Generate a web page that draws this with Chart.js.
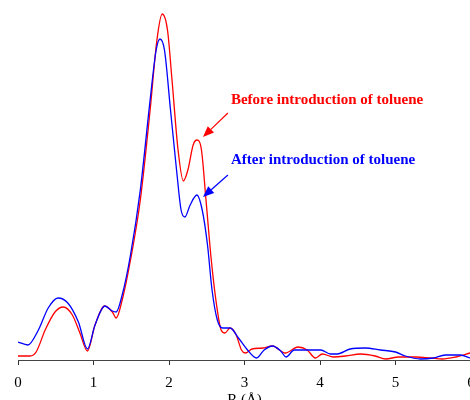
<!DOCTYPE html>
<html>
<head>
<meta charset="utf-8">
<script src="https://cdn.jsdelivr.net/npm/chart.js@4"></script>
<style>
  html, body { margin: 0; padding: 0; background: #fff; overflow: hidden; }
  #wrap { position: relative; width: 490px; height: 409px; }
</style>
</head>
<body>
<div id="wrap"><canvas id="ft-chart"></canvas></div>
<script>
// R values (Angstrom) and FT magnitudes
const rBefore = [0.00, 0.16, 0.24, 0.36, 0.49, 0.60, 0.72, 0.82, 0.92, 1.02, 1.15, 1.25, 1.30, 1.38, 1.49, 1.62, 1.75, 1.84, 1.91, 1.98, 2.04, 2.12, 2.19, 2.25, 2.32, 2.37, 2.43, 2.49, 2.56, 2.63, 2.69, 2.74, 2.81, 2.89, 2.96, 3.01, 3.10, 3.24, 3.37, 3.54, 3.71, 3.83, 3.94, 4.03, 4.18, 4.34, 4.54, 4.73, 4.87, 5.04, 5.27, 5.46, 5.62, 5.80, 5.99];
const magBefore = [0.04, 0.04, 0.08, 0.30, 0.48, 0.53, 0.45, 0.27, 0.09, 0.35, 0.54, 0.48, 0.42, 0.60, 1.00, 1.60, 2.50, 3.20, 3.46, 3.30, 2.80, 2.10, 1.79, 1.90, 2.15, 2.20, 2.10, 1.60, 1.00, 0.55, 0.30, 0.27, 0.32, 0.25, 0.10, 0.07, 0.11, 0.12, 0.14, 0.07, 0.13, 0.10, 0.02, 0.06, 0.03, 0.04, 0.06, 0.04, 0.01, 0.03, 0.03, 0.02, 0.01, 0.03, 0.07];

const rAfter = [0.00, 0.13, 0.27, 0.40, 0.53, 0.66, 0.80, 0.92, 1.02, 1.15, 1.25, 1.30, 1.38, 1.49, 1.62, 1.75, 1.83, 1.88, 1.94, 2.02, 2.10, 2.16, 2.21, 2.28, 2.37, 2.44, 2.51, 2.57, 2.64, 2.71, 2.81, 2.92, 3.04, 3.16, 3.26, 3.37, 3.48, 3.55, 3.66, 3.87, 4.01, 4.14, 4.23, 4.40, 4.60, 4.80, 5.00, 5.13, 5.33, 5.50, 5.66, 5.86, 5.99];
const magAfter = [0.18, 0.15, 0.30, 0.52, 0.62, 0.57, 0.38, 0.11, 0.35, 0.54, 0.49, 0.48, 0.65, 1.05, 1.70, 2.60, 3.10, 3.21, 3.10, 2.50, 1.90, 1.50, 1.43, 1.55, 1.65, 1.50, 1.15, 0.70, 0.40, 0.32, 0.32, 0.22, 0.10, 0.02, 0.10, 0.14, 0.09, 0.03, 0.10, 0.10, 0.10, 0.06, 0.06, 0.11, 0.12, 0.10, 0.08, 0.04, 0.01, 0.02, 0.05, 0.05, 0.02];

const xTicks = [0, 1, 2, 3, 4, 5, 6];
const labelBefore = 'Before introduction of toluene';
const labelAfter = 'After introduction of toluene';

const toPoints = (xs, ys) => xs.map((x, i) => ({ x: x, y: ys[i] }));

// text + arrow annotations, placed in data coordinates
const notes = [
    { text: labelBefore, colour: '#ff0000', textAt: [2.82, 2.60], tail: [2.78, 2.47], head: [2.45, 2.23] },
    { text: labelAfter, colour: '#0000ff', textAt: [2.82, 2.00], tail: [2.78, 1.85], head: [2.45, 1.63] }
];

const arrowNotes = {
    id: 'arrowNotes',
    afterDatasetsDraw(chart) {
        const ctx = chart.ctx;
        const xs = chart.scales.x;
        const ys = chart.scales.y;
        ctx.save();
        for (let n of notes) {
            const tx = xs.getPixelForValue(n.tail[0]), ty = ys.getPixelForValue(n.tail[1]);
            const hx = xs.getPixelForValue(n.head[0]), hy = ys.getPixelForValue(n.head[1]);
            ctx.strokeStyle = n.colour;
            ctx.fillStyle = n.colour;
            ctx.lineWidth = 1.2;
            const ang = Math.atan2(hy - ty, hx - tx);
            const len = 11, wid = 4.5;
            const bx = hx - len * Math.cos(ang), by = hy - len * Math.sin(ang);
            ctx.beginPath();
            ctx.moveTo(tx, ty);
            ctx.lineTo(bx, by);
            ctx.stroke();
            ctx.beginPath();
            ctx.moveTo(hx, hy);
            ctx.lineTo(bx + wid * Math.sin(ang), by - wid * Math.cos(ang));
            ctx.lineTo(bx - wid * Math.sin(ang), by + wid * Math.cos(ang));
            ctx.closePath();
            ctx.fill();

            ctx.font = 'bold 15px "Liberation Serif", "Times New Roman", serif';
            ctx.textAlign = 'left';
            ctx.textBaseline = 'middle';
            ctx.fillText(n.text, xs.getPixelForValue(n.textAt[0]), ys.getPixelForValue(n.textAt[1]));
        }
        ctx.restore();
    }
};

const config = {
    type: 'line',
    data: {
        datasets: [
            {
                label: labelAfter,
                data: toPoints(rAfter, magAfter),
                borderColor: '#0000ff',
                borderWidth: 1.3,
                cubicInterpolationMode: 'monotone',
                pointRadius: 0,
                fill: false
            },
            {
                label: labelBefore,
                data: toPoints(rBefore, magBefore),
                borderColor: '#ff0000',
                borderWidth: 1.3,
                cubicInterpolationMode: 'monotone',
                pointRadius: 0,
                fill: false
            }
        ]
    },
    options: {
        responsive: true,
        maintainAspectRatio: false,
        animation: false,
        layout: { padding: { left: 18, right: 19, top: 0, bottom: 0 } },
        plugins: {
            legend: { display: false },
            tooltip: { enabled: false }
        },
        scales: {
            x: {
                type: 'linear',
                min: 0,
                max: 6,
                afterBuildTicks: (axis) => { axis.ticks = xTicks.map(v => ({ value: v })); },
                grid: { drawOnChartArea: false, drawTicks: true, tickLength: 5, color: '#333' },
                border: { display: true, color: '#444', width: 1 },
                ticks: {
                    color: '#000',
                    padding: 9,
                    maxRotation: 0,
                    font: { family: '"Liberation Serif", "Times New Roman", serif', size: 15 }
                },
                title: {
                    display: true,
                    text: 'R (Å)',
                    color: '#000',
                    padding: { top: -10, bottom: 0 },
                    font: { family: '"Liberation Serif", "Times New Roman", serif', size: 15 }
                }
            },
            y: {
                display: false,
                min: 0,
                max: 3.6
            }
        }
    },
    plugins: [arrowNotes]
};

new Chart(document.getElementById('ft-chart'), config);
</script>
</body>
</html>
